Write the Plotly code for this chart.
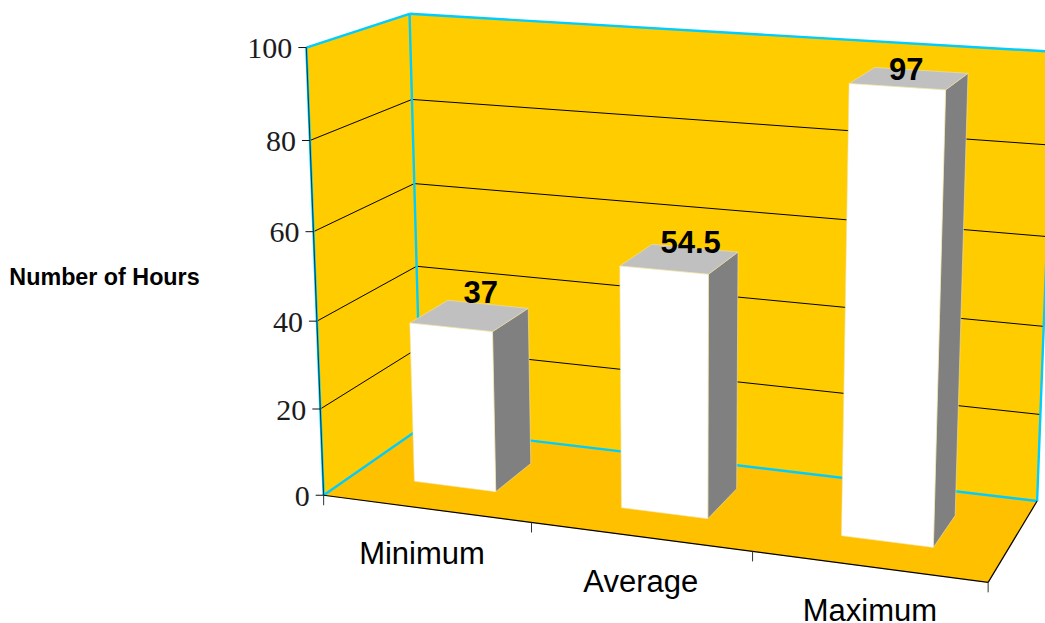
import numpy as np
import plotly.graph_objects as go

categories = ["Minimum", "Average", "Maximum"]
hours = [37, 54.5, 97]
value_ticks = [0, 20, 40, 60, 80, 100]
axis_title = "Number of Hours"

WALL = "#FFCC00"
FLOOR = "#FFC000"
FRAME = "#00CCFF"
BAR_FRONT = "#FFFFFF"
BAR_TOP = "#C0C0C0"
BAR_SIDE = "#808080"
BAR_EDGE = "#EFE2B0"

BAR_LO, BAR_HI = 0.3, 0.7   # bar extent inside a category slot and along the depth
SERIF = "Liberation Serif"
SANS = "Liberation Sans"

# Camera of the 3D box: (category position, depth, value) -> canvas pixel,
# solved from where known points of the box sit on the canvas.
box_corners = [
    ((0, 0, 0), (323.3, 495)), ((0, 0, 100), (306, 47)),
    ((0, 1, 100), (409.3, 13.3)), ((0, 1, 0), (421, 427)),
    ((3, 1, 0), (1037, 501.7)), ((3, 1, 100), (1051, 51)),
    ((3, 0, 0), (987.7, 581.7)),
    ((1, 0, 0), (531.3, 520.7)), ((2, 0, 0), (752, 551)),
    ((0, 0, 80), (310, 141.3)), ((0, 1, 80), (412.7, 99.3)), ((0, 1, 60), (415, 183.3)),
    ((0.3, 0.3, 37), (410, 324)), ((0.7, 0.3, 37), (491.7, 331.7)), ((0.7, 0.7, 37), (527.7, 310)),
    ((1.3, 0.3, 54.5), (620, 266)), ((1.7, 0.3, 54.5), (708, 275)), ((1.7, 0.7, 54.5), (738, 252)),
    ((2.3, 0.3, 97), (850, 85)), ((2.7, 0.3, 97), (946, 90)), ((2.7, 0.7, 97), (970, 72)),
    ((2.3, 0.3, 0), (842, 536)), ((2.7, 0.3, 0), (934, 547.5)), ((2.7, 0.7, 0), (956, 516)),
]


def solve_camera(corners):
    rows, rhs = [], []
    for (c, d, v), (px, py) in corners:
        v = v / 100
        rows.append([c, d, v, 1, 0, 0, 0, 0, -px * c, -px * d, -px * v])
        rhs.append(px)
        rows.append([0, 0, 0, 0, c, d, v, 1, -py * c, -py * d, -py * v])
        rhs.append(py)
    sol = np.linalg.lstsq(np.array(rows, float), np.array(rhs, float), rcond=None)[0]
    return np.append(sol, 1).reshape(3, 4)


CAMERA = solve_camera(box_corners)


def project(c, d, v):
    h = CAMERA @ np.array([c, d, v / 100, 1.0])
    return float(h[0] / h[2]), float(h[1] / h[2])


fig = go.Figure()


def face(points, color, edge=None):
    pts = [project(*p) for p in points]
    pts.append(pts[0])
    fig.add_trace(go.Scatter(
        x=[p[0] for p in pts], y=[p[1] for p in pts], mode="lines", fill="toself",
        fillcolor=color, line=dict(color=edge or color, width=0.6), hoverinfo="skip",
    ))


def segment(a, b, color, width=1.0):
    pa, pb = project(*a), project(*b)
    fig.add_trace(go.Scatter(
        x=[pa[0], pb[0]], y=[pa[1], pb[1]], mode="lines",
        line=dict(color=color, width=width), hoverinfo="skip",
    ))


def pixel_line(xs, ys, color="#000000", width=1.0):
    fig.add_trace(go.Scatter(x=xs, y=ys, mode="lines",
                             line=dict(color=color, width=width), hoverinfo="skip"))


def label(x, y, text, size, family=SANS, weight=400, anchor="middle center", color="#000000"):
    fig.add_trace(go.Scatter(
        x=[x], y=[y], mode="text", text=[text], textposition=anchor, cliponaxis=False,
        textfont=dict(size=size, family=family, color=color, weight=weight),
        hoverinfo="skip",
    ))


n = len(categories)
top = value_ticks[-1]

# Floor and the two walls
face([(0, 0, 0), (n, 0, 0), (n, 1, 0), (0, 1, 0)], FLOOR)
face([(0, 0, 0), (0, 1, 0), (0, 1, top), (0, 0, top)], WALL)
face([(0, 1, 0), (n, 1, 0), (n, 1, top), (0, 1, top)], WALL)

# Gridlines on both walls
for t in value_ticks[1:-1]:
    segment((0, 0, t), (0, 1, t), "#000000")
    segment((0, 1, t), (n, 1, t), "#000000")

# Wall outline
segment((0, 0, top), (0, 1, top), FRAME, 2.4)
segment((0, 1, top), (n, 1, top), FRAME, 2.4)
segment((0, 1, 0), (0, 1, top), FRAME, 2.4)
segment((n, 1, 0), (n, 1, top), FRAME, 2.4)
segment((0, 0, 0), (0, 1, 0), FRAME, 2.4)
segment((0, 1, 0), (n, 1, 0), FRAME, 2.4)
segment((0, 0, 0), (0, 0, top), FRAME, 2.4)
segment((0, 0, 0), (0, 0, top), "#003A4A", 1)

# Axis lines on the open sides of the floor
segment((0, 0, 0), (n, 0, 0), "#000000", 1.2)
segment((n, 0, 0), (n, 1, 0), "#000000", 1.2)

# Ticks and tick labels
for t in value_ticks:
    px, py = project(0, 0, t)
    pixel_line([px - 8, px], [py, py], "#111111")
    label(px - 14, py + 3, str(t), 30, family=SERIF, anchor="middle left", color="#1C1C1C")
for i in range(n + 1):
    px, py = project(i, 0, 0)
    pixel_line([px, px], [py, py + 10], "#333333")
category_nudges = [(-4, 48), (0.5, 48), (1.5, 47)]
for i, name in enumerate(categories):
    px, py = project(i + 0.5, 0, 0)
    label(px + category_nudges[i][0], py + category_nudges[i][1], name, 31)

# Bars: right side and top first, the front face last
for i, value in enumerate(hours):
    x0, x1 = i + BAR_LO, i + BAR_HI
    face([(x1, BAR_LO, 0), (x1, BAR_HI, 0), (x1, BAR_HI, value), (x1, BAR_LO, value)], BAR_SIDE, BAR_EDGE)
    face([(x0, BAR_LO, value), (x1, BAR_LO, value), (x1, BAR_HI, value), (x0, BAR_HI, value)], BAR_TOP, BAR_EDGE)
    face([(x0, BAR_LO, 0), (x1, BAR_LO, 0), (x1, BAR_LO, value), (x0, BAR_LO, value)], BAR_FRONT, BAR_EDGE)

# Value labels sit near each bar's top, nudged a little differently per bar
label_nudges = [(11, -20), (11, -14), (-3, -6)]
for i, value in enumerate(hours):
    px, py = project(i + 0.5, 0.5, value)
    label(px + label_nudges[i][0], py + label_nudges[i][1], f"{value:g}", 31, weight=700)

label(104.5, 279, axis_title, 23.3, weight=700)

fig.update_layout(
    width=1045, height=623, autosize=False, showlegend=False,
    margin=dict(l=0, r=0, t=0, b=0),
    paper_bgcolor="#FFFFFF", plot_bgcolor="#FFFFFF",
    xaxis=dict(range=[0, 1045], visible=False, fixedrange=True),
    yaxis=dict(range=[623, 0], visible=False, fixedrange=True),
)
fig.write_html("out.html", config=dict(displayModeBar=False))
